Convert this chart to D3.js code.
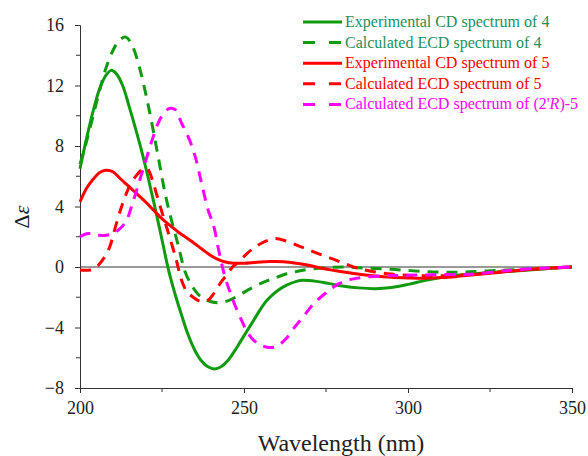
<!DOCTYPE html>
<html>
<head>
<meta charset="utf-8">
<script src="https://cdn.jsdelivr.net/npm/d3@7"></script>
<style>
  body { margin: 0; background: #fff; }
</style>
</head>
<body>
<div id="chart"></div>
<script>
// wavelength (nm) / delta epsilon
var exp4 = [[200,6.5],[202,8.5],[204,10.3],[206,11.8],[208,12.7],[209.5,13.0],[211,12.8],[213,12.0],[215,10.6],[217,9.1],[219,7.5],[221,5.7],[223,3.8],[225,1.8],[227,-0.2],[229,-1.8],[231,-3.2],[233,-4.5],[235,-5.5],[237,-6.2],[239,-6.6],[241,-6.75],[243,-6.6],[245,-6.2],[247,-5.6],[249,-4.9],[251,-4.2],[253,-3.5],[255,-2.8],[257,-2.2],[260,-1.6],[263,-1.2],[266,-0.95],[268,-0.88],[272,-0.95],[276,-1.1],[280,-1.25],[285,-1.38],[290,-1.43],[295,-1.35],[300,-1.15],[305,-0.9],[310,-0.7],[315,-0.55],[320,-0.45],[330,-0.3],[340,-0.15],[350,0]];
var calc4 = [[200,6.8],[202,8.3],[204,10.0],[206,11.7],[208,13.2],[210,14.3],[212,15.0],[214,15.2],[216,14.6],[218,13.3],[220,11.5],[222,9.4],[224,7.1],[226,4.8],[228,3.0],[230,1.4],[232,-0.3],[234,-1.2],[236,-1.8],[238,-2.1],[240,-2.3],[243,-2.35],[246,-2.15],[249,-1.8],[252,-1.43],[256,-1.0],[259,-0.76],[263,-0.45],[266,-0.3],[270,-0.15],[275,-0.05],[280,0],[285,-0.05],[290,-0.1],[295,-0.15],[300,-0.23],[305,-0.3],[310,-0.34],[315,-0.34],[320,-0.3],[325,-0.25],[330,-0.2],[340,-0.1],[350,0]];
var exp5 = [[200,4.3],[202,5.2],[204,5.8],[206,6.25],[208,6.4],[210,6.3],[212,5.9],[214,5.5],[216,5.1],[218,4.7],[220,4.3],[222,3.85],[224,3.4],[226,3.0],[228,2.65],[230,2.3],[232,2.0],[234,1.7],[236,1.38],[238,1.05],[240,0.74],[242,0.5],[244,0.35],[247,0.25],[250,0.25],[254,0.32],[258,0.36],[262,0.35],[266,0.25],[270,0.1],[274,-0.1],[278,-0.25],[284,-0.45],[290,-0.6],[295,-0.68],[300,-0.72],[305,-0.74],[310,-0.7],[315,-0.62],[320,-0.52],[325,-0.42],[330,-0.3],[335,-0.2],[340,-0.12],[345,-0.05],[350,0]];
var calc5 = [[200,-0.2],[203,-0.2],[205,0],[207,0.5],[209,1.3],[211,2.8],[213,4.2],[215,5.3],[217,6.0],[219,6.45],[220.5,6.5],[222,5.8],[223.3,4.85],[225.3,3.4],[227.3,2.0],[229.4,0.43],[231,-0.9],[232.5,-1.6],[234.5,-2.0],[237,-2.3],[239,-2.2],[241,-1.7],[243,-1.0],[244.7,-0.55],[246.5,0],[248.3,0.32],[250.8,0.87],[253,1.25],[256,1.65],[259.5,1.88],[263,1.7],[266,1.45],[269,1.2],[273,0.85],[277,0.54],[281,0.2],[285,-0.1],[290,-0.33],[295,-0.47],[300,-0.55],[305,-0.58],[310,-0.58],[315,-0.55],[320,-0.47],[325,-0.38],[330,-0.28],[340,-0.12],[350,0]];
var calc2R5 = [[200,2.0],[202,2.2],[204,2.2],[206,2.1],[208,2.1],[210,2.2],[212,2.5],[214,3.0],[216,4.2],[218,5.6],[220,7.0],[222,8.4],[224,9.6],[226,10.3],[227.5,10.5],[229,10.4],[231,9.5],[233,8.6],[235,7.4],[237,5.6],[239,3.8],[240,3.2],[241,2.5],[242,1.4],[243,0.4],[244,-0.5],[245,-1.2],[246,-1.8],[247,-2.4],[249,-3.4],[251,-4.3],[253,-4.85],[255,-5.15],[257,-5.3],[259,-5.3],[261,-5.1],[263,-4.7],[265,-4.1],[268,-3.3],[271,-2.5],[275,-1.7],[279,-1.1],[283,-0.8],[288,-0.65],[293,-0.57],[300,-0.55],[310,-0.5],[316,-0.5],[322,-0.43],[328,-0.27],[335,-0.15],[342,-0.07],[350,0]];

var xTicks = [200, 250, 300, 350];
var xMinor = [225, 275, 325];
var yTicks = [-8, -4, 0, 4, 8, 12, 16];
var yMinor = [-6, -2, 2, 6, 10, 14];

var seriesNames = ["Experimental CD spectrum of 4", "Calculated ECD spectrum of 4",
    "Experimental CD spectrum of 5", "Calculated ECD spectrum of 5", "Calculated ECD spectrum of "];

var series = [
    {name: seriesNames[0], data: exp4, color: "#109a10", text: "#23905c", dash: null},
    {name: seriesNames[1], data: calc4, color: "#109a10", text: "#23905c", dash: "11,8"},
    {name: seriesNames[2], data: exp5, color: "#ff0000", text: "#ff0000", dash: null},
    {name: seriesNames[3], data: calc5, color: "#ff0000", text: "#ff0000", dash: "11,8"},
    {name: seriesNames[4], data: calc2R5, color: "#ff00ff", text: "#ff00ff", dash: "11,8"}
];

var FONT = "Liberation Serif";

var margin = {top: 25, right: 16, bottom: 68, left: 80};
var width = 588 - margin.left - margin.right;
var height = 456 - margin.top - margin.bottom;

var svg = d3.select("#chart").append("svg")
    .attr("width", 588)
    .attr("height", 456)
    .attr("font-family", FONT);
var g = svg.append("g")
    .attr("transform", "translate(" + margin.left + "," + margin.top + ")");

var x = d3.scaleLinear().domain([200, 350]).range([0, width]);
var y = d3.scaleLinear().domain([-8, 16]).range([height, 0]);

// zero line
g.append("line")
    .attr("x1", 0).attr("x2", width)
    .attr("y1", y(0)).attr("y2", y(0))
    .attr("stroke", "#333").attr("stroke-width", 1);

// axes
var xAxis = d3.axisBottom(x).tickValues(xTicks).tickSize(5).tickPadding(8).tickFormat(d3.format("d"));
var yAxis = d3.axisLeft(y).tickValues(yTicks).tickSize(5).tickPadding(11).tickFormat(d3.format("d"));

var gx = g.append("g").attr("transform", "translate(0," + height + ")").call(xAxis);
xMinor.forEach(function(v) {
    gx.append("line").attr("x1", x(v)).attr("x2", x(v)).attr("y1", 0).attr("y2", 4)
        .attr("stroke", "#333");
});
var gy = g.append("g").call(yAxis);
yMinor.forEach(function(v) {
    gy.append("line").attr("x1", 0).attr("x2", -4).attr("y1", y(v)).attr("y2", y(v))
        .attr("stroke", "#333");
});

[gx, gy].forEach(function(a) {
    a.attr("font-family", FONT);
    a.select(".domain").attr("stroke", "#333");
    a.selectAll(".tick line").attr("stroke", "#333");
    a.selectAll(".tick text")
        .attr("font-family", FONT)
        .attr("font-size", 18)
        .attr("fill", "#222");
});

// curves
var line = d3.line()
    .x(function(d) { return x(d[0]); })
    .y(function(d) { return y(d[1]); })
    .curve(d3.curveCatmullRom.alpha(0.5));

series.forEach(function(s) {
    g.append("path")
        .datum(s.data)
        .attr("fill", "none")
        .attr("stroke", s.color)
        .attr("stroke-width", 3)
        .attr("stroke-dasharray", s.dash)
        .attr("d", line);
});

// axis titles
svg.append("text")
    .attr("x", 341).attr("y", 451)
    .attr("text-anchor", "middle")
    .attr("font-family", FONT)
    .attr("font-size", 24)
    .attr("fill", "#222")
    .text("Wavelength (nm)");

svg.append("text")
    .attr("transform", "translate(29,217) rotate(-90)")
    .attr("text-anchor", "middle")
    .attr("font-family", FONT)
    .attr("font-size", 22)
    .attr("fill", "#222")
    .html("Δ<tspan font-style='italic'>ε</tspan>");

// legend
var legend = svg.append("g").attr("transform", "translate(303,22)");
series.forEach(function(s, i) {
    var row = legend.append("g").attr("transform", "translate(0," + (i * 20.6) + ")");
    row.append("line")
        .attr("x1", 0).attr("x2", 39)
        .attr("stroke", s.color)
        .attr("stroke-width", 3)
        .attr("stroke-dasharray", s.dash ? "12,14" : null);
    var t = row.append("text")
        .attr("x", 42).attr("y", 5)
        .attr("font-family", FONT)
        .attr("font-size", 16)
        .attr("fill", s.text)
        .text(s.name);
    if (i == 4) {
        t.append("tspan").text("(2'");
        t.append("tspan").attr("font-style", "italic").text("R");
        t.append("tspan").text(")-5");
    }
});
</script>
</body>
</html>
